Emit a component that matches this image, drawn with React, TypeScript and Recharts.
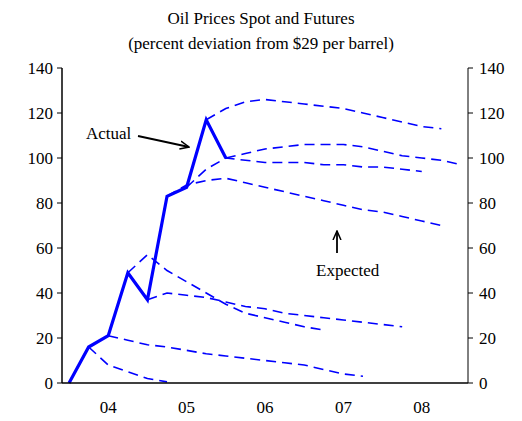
import { LineChart, Line, XAxis, YAxis } from 'recharts';

const quarters = Array.from({ length: 21 }, (_, i) => i);
const yearTicks = [2, 6, 10, 14, 18];
const yearLabels: Record<number, string> = { 2: '04', 6: '05', 10: '06', 14: '07', 18: '08' };
const yTicks = [0, 20, 40, 60, 80, 100, 120, 140];

// actual spot, by quarter index
const actual = [0, 16, 21, 49, 37, 83, 87, 117, 100];

// futures curves: [start quarter, values...]
const futures: [number, number[]][] = [
  [1, [16, 8, 5, 2, 0.5]],
  [2, [21, 19, 17, 16, 14.5, 13, 12, 11, 10, 9, 8, 6, 4, 3]],
  [3, [49, 57, 50, 45, 40, 35, 31, 29, 27, 25, 23.5]],
  [4, [37, 40, 39, 38, 36, 34, 33, 31, 30, 29, 28, 27, 26, 25]],
  [5, [83, 88, 90, 91, 89, 87, 85, 83, 81, 79, 77, 76, 74, 72, 70]],
  [6, [87, 95, 100, 99, 98, 98, 98, 97, 97, 96, 96, 95, 94]],
  [7, [117, 122, 125, 126, 125, 124, 123, 122, 120, 118, 116, 114, 113]],
  [8, [100, 102, 104, 105, 106, 106, 106, 105, 103, 101, 100, 99, 97]],
];

const data = quarters.map((q) => {
  const row: Record<string, number | null> = { q, actual: q < actual.length ? actual[q] : null };
  futures.forEach(([start, vals], k) => {
    const i = q - start;
    row['f' + k] = i >= 0 && i < vals.length ? vals[i] : null;
  });
  return row;
});

const font = "'Liberation Serif', 'DejaVu Serif', serif";

const XTick = ({ x, y, payload }: any) => (
  <text x={x} y={y + 22} textAnchor="middle" fontSize={17} fontFamily={font} fill="#000">{yearLabels[payload.value]}</text>
);
const LTick = ({ x, y, payload }: any) => (
  <text x={x - 2} y={y + 6} textAnchor="end" fontSize={17} fontFamily={font} fill="#000">{payload.value}</text>
);
const RTick = ({ x, y, payload }: any) => (
  <text x={x + 4} y={y + 6} textAnchor="start" fontSize={17} fontFamily={font} fill="#000">{payload.value}</text>
);

export default function App() {
  return (
    <div style={{ position: 'absolute', left: 0, top: 0, width: 522, height: 421, background: '#fff', fontFamily: font }}>
      <div style={{ position: 'absolute', top: 6, width: 522, textAlign: 'center', fontSize: 17, lineHeight: '25px', color: '#000' }}>
        Oil Prices Spot and Futures<br />(percent deviation from $29 per barrel)
      </div>
      <LineChart width={522} height={421} data={data} margin={{ top: 68, bottom: 8, left: 22, right: 14 }}>
        <XAxis dataKey="q" type="number" domain={[-0.36, 20.36]} ticks={yearTicks} height={30}
          tickLine={false} axisLine={{ stroke: '#000', strokeWidth: 1.5 }} tick={XTick} />
        <YAxis yAxisId="l" domain={[0, 140]} ticks={yTicks} width={40} tickSize={5}
          axisLine={{ stroke: '#000', strokeWidth: 1.5 }} tickLine={{ stroke: '#000' }} tick={LTick} />
        <YAxis yAxisId="r" orientation="right" domain={[0, 140]} ticks={yTicks} width={40} tickSize={5}
          axisLine={{ stroke: '#000', strokeWidth: 1 }} tickLine={{ stroke: '#000' }} tick={RTick} />
        <Line yAxisId="r" dataKey="actual" stroke="none" dot={false} isAnimationActive={false} />
        {futures.map((_, k) => (
          <Line key={k} yAxisId="l" dataKey={'f' + k} stroke="#0000ff" strokeWidth={1.6} strokeDasharray="10 6" dot={false} isAnimationActive={false} />
        ))}
        <Line yAxisId="l" dataKey="actual" stroke="#0000ff" strokeWidth={3.2} dot={false} isAnimationActive={false} />
      </LineChart>
      <svg width={522} height={421} style={{ position: 'absolute', left: 0, top: 0, pointerEvents: 'none' }}>
        <defs>
          <marker id="ah" markerWidth="10" markerHeight="10" refX="9" refY="5" orient="auto" markerUnits="userSpaceOnUse">
            <path d="M0,1 L9,5 L0,9" fill="none" stroke="#000" strokeWidth={1.5} />
          </marker>
        </defs>
        <text x={86} y={139} fontSize={17} fontFamily={font}>Actual</text>
        <line x1={138} y1={136} x2={189} y2={147} stroke="#000" strokeWidth={1.8} markerEnd="url(#ah)" />
        <text x={316} y={276} fontSize={17} fontFamily={font}>Expected</text>
        <line x1={337} y1={253} x2={337} y2={231} stroke="#000" strokeWidth={1.8} markerEnd="url(#ah)" />
      </svg>
    </div>
  );
}
